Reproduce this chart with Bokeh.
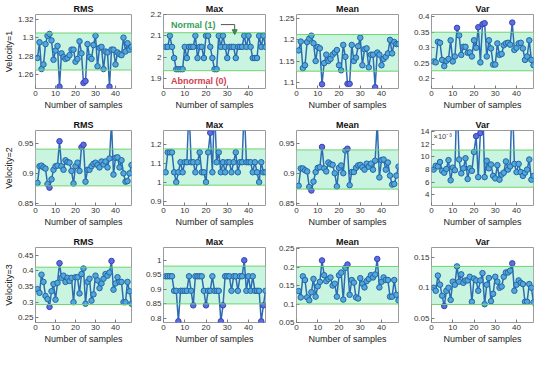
from bokeh.plotting import figure
from bokeh.layouts import column, row
from bokeh.models import (ColumnDataSource, BoxAnnotation, Span, Label, FixedTicker,
                          Range1d, Arrow, NormalHead, CustomJSTickFormatter)
from bokeh.embed import file_html
from bokeh.resources import INLINE

# ---------------- data ----------------
samples = list(range(1, 49))
x_ticks = [0, 10, 20, 30, 40]
titles = ["RMS", "Max", "Mean", "Var"]
row_labels = ["Velocity=1", "Velocity=2", "Velocity=3"]

rms_v1 = [1.278, 1.295, 1.266, 1.271, 1.293, 1.302, 1.304, 1.297, 1.276, 1.286, 1.291, 1.247,
          1.283, 1.279, 1.277, 1.278, 1.281, 1.287, 1.287, 1.274, 1.277, 1.296, 1.283, 1.251,
          1.253, 1.293, 1.279, 1.277, 1.292, 1.302, 1.269, 1.289, 1.290, 1.266, 1.285, 1.284,
          1.247, 1.287, 1.287, 1.271, 1.284, 1.282, 1.281, 1.300, 1.285, 1.294, 1.287, 1.290]
max_v1 = [2.049, 2.049, 2.101, 2.049, 1.997, 1.945, 1.945, 1.945, 1.945, 2.049, 1.997, 2.049,
          2.049, 2.049, 2.101, 1.997, 2.049, 2.049, 1.997, 2.101, 2.101, 2.049, 1.997, 1.945,
          1.945, 2.101, 2.049, 2.101, 2.049, 1.997, 2.049, 2.049, 2.049, 1.997, 2.049, 2.049,
          2.049, 2.101, 2.049, 2.101, 2.049, 1.997, 1.997, 1.997, 2.101, 2.049, 2.101, 2.049]
mean_v1 = [1.175, 1.196, 1.133, 1.140, 1.195, 1.203, 1.210, 1.192, 1.150, 1.183, 1.180, 1.095,
           1.145, 1.165, 1.150, 1.155, 1.165, 1.170, 1.176, 1.140, 1.128, 1.188, 1.160, 1.096,
           1.096, 1.188, 1.150, 1.158, 1.185, 1.205, 1.140, 1.178, 1.180, 1.135, 1.165, 1.165,
           1.088, 1.170, 1.165, 1.140, 1.155, 1.160, 1.168, 1.200, 1.168, 1.195, 1.190, 1.190]
var_v1 = [0.256, 0.253, 0.319, 0.316, 0.261, 0.241, 0.258, 0.264, 0.324, 0.256, 0.272, 0.364,
          0.340, 0.277, 0.303, 0.303, 0.284, 0.285, 0.272, 0.324, 0.300, 0.366, 0.253, 0.376,
          0.379, 0.272, 0.324, 0.298, 0.246, 0.246, 0.314, 0.277, 0.280, 0.308, 0.314, 0.316,
          0.310, 0.381, 0.293, 0.300, 0.314, 0.316, 0.298, 0.261, 0.272, 0.324, 0.261, 0.244]

rms_v2 = [0.884, 0.912, 0.913, 0.910, 0.908, 0.882, 0.876, 0.890, 0.906, 0.912, 0.913, 0.954,
          0.912, 0.906, 0.922, 0.919, 0.918, 0.904, 0.883, 0.912, 0.918, 0.904, 0.944, 0.948,
          0.886, 0.906, 0.906, 0.912, 0.916, 0.918, 0.914, 0.910, 0.920, 0.915, 0.920, 0.910,
          0.925, 0.985, 0.898, 0.926, 0.927, 0.910, 0.922, 0.900, 0.886, 0.887, 0.900, 0.914]
max_v2 = [1.052, 1.157, 1.157, 1.157, 1.052, 1.000, 1.052, 1.105, 1.052, 1.105, 1.105, 1.400,
          1.105, 1.105, 1.052, 1.105, 1.157, 1.052, 1.052, 1.000, 1.157, 1.260, 1.052, 1.400,
          1.105, 1.157, 1.052, 1.105, 1.052, 1.105, 1.105, 1.052, 1.105, 1.157, 1.052, 1.105,
          1.105, 1.400, 1.105, 1.105, 1.105, 1.052, 1.105, 1.052, 1.000, 1.105, 1.052, 1.052]
mean_v2 = [0.879, 0.908, 0.908, 0.905, 0.903, 0.877, 0.871, 0.886, 0.902, 0.909, 0.910, 0.944,
           0.908, 0.903, 0.918, 0.915, 0.914, 0.900, 0.878, 0.909, 0.913, 0.900, 0.938, 0.941,
           0.880, 0.902, 0.902, 0.909, 0.913, 0.914, 0.910, 0.906, 0.916, 0.911, 0.916, 0.906,
           0.921, 0.985, 0.893, 0.922, 0.923, 0.906, 0.918, 0.896, 0.881, 0.882, 0.896, 0.911]
var_v2_e3 = [8.0, 8.6, 8.5, 9.2, 7.8, 7.5, 8.1, 9.5, 6.3, 8.3, 7.9, 20.0,
             9.6, 7.4, 8.2, 9.8, 6.5, 8.2, 7.8, 10.8, 13.3, 6.8, 13.8, 20.0,
             6.8, 9.4, 8.2, 8.8, 7.0, 6.6, 8.7, 6.4, 7.2, 7.5, 9.3, 8.0,
             8.5, 20.0, 8.9, 7.6, 8.9, 7.6, 7.0, 7.5, 8.0, 9.6, 6.4, 7.0]

rms_v3 = [0.342, 0.330, 0.388, 0.365, 0.320, 0.310, 0.285, 0.335, 0.358, 0.308, 0.362, 0.425,
          0.378, 0.385, 0.365, 0.378, 0.368, 0.378, 0.300, 0.380, 0.380, 0.328, 0.390, 0.408,
          0.295, 0.365, 0.375, 0.305, 0.325, 0.385, 0.370, 0.345, 0.360, 0.375, 0.390, 0.385,
          0.395, 0.432, 0.340, 0.360, 0.380, 0.365, 0.365, 0.300, 0.300, 0.365, 0.335, 0.295]
max_v3 = [0.945, 0.945, 0.945, 0.945, 0.895, 0.895, 0.790, 0.895, 0.895, 0.895, 0.895, 0.945,
          0.895, 0.845, 0.945, 0.945, 0.945, 0.945, 0.895, 0.845, 0.895, 0.895, 0.945, 0.895,
          0.895, 0.895, 0.790, 0.845, 0.945, 0.945, 0.945, 0.895, 0.945, 0.945, 0.895, 0.945,
          0.945, 1.000, 0.895, 0.945, 0.895, 0.945, 0.895, 0.895, 0.895, 0.790, 0.845, 0.895]
mean_v3 = [0.135, 0.118, 0.175, 0.165, 0.118, 0.110, 0.132, 0.168, 0.120, 0.148, 0.160, 0.218,
           0.178, 0.162, 0.168, 0.172, 0.150, 0.155, 0.120, 0.178, 0.185, 0.112, 0.198, 0.207,
           0.125, 0.165, 0.158, 0.118, 0.115, 0.170, 0.155, 0.145, 0.162, 0.168, 0.178, 0.172,
           0.180, 0.222, 0.145, 0.160, 0.172, 0.165, 0.165, 0.120, 0.120, 0.165, 0.125, 0.110]
var_v3 = [0.100, 0.095, 0.120, 0.105, 0.087, 0.070, 0.095, 0.100, 0.080, 0.110, 0.105, 0.135,
          0.110, 0.122, 0.108, 0.112, 0.112, 0.118, 0.077, 0.115, 0.112, 0.095, 0.112, 0.124,
          0.073, 0.105, 0.116, 0.078, 0.090, 0.118, 0.110, 0.100, 0.102, 0.118, 0.125, 0.125,
          0.128, 0.140, 0.095, 0.105, 0.112, 0.108, 0.106, 0.077, 0.077, 0.106, 0.100, 0.076]

series = [[rms_v1, max_v1, mean_v1, var_v1],
          [rms_v2, max_v2, mean_v2, var_v2_e3],
          [rms_v3, max_v3, mean_v3, var_v3]]

y_limits = [[(1.245, 1.325), (1.855, 2.2), (1.085, 1.26), (0.169, 0.407)],
            [(0.846, 0.972), (0.877, 1.272), (0.846, 0.9715), (2.3, 14.2)],
            [(0.235, 0.475), (0.786, 1.044), (0.05, 0.253), (0.043, 0.166)]]
y_ticks = [[[1.26, 1.28, 1.3, 1.32], [1.9, 2, 2.1, 2.2], [1.1, 1.15, 1.2, 1.25], [0.2, 0.25, 0.3, 0.35, 0.4]],
           [[0.85, 0.9, 0.95], [0.9, 1, 1.1, 1.2], [0.85, 0.9, 0.95], [4, 6, 8, 10, 12, 14]],
           [[0.25, 0.3, 0.35, 0.4, 0.45], [0.8, 0.85, 0.9, 0.95, 1], [0.05, 0.1, 0.15, 0.2, 0.25], [0.05, 0.1, 0.15]]]
normal_band = [[(1.265, 1.305), (1.938, 2.115), (1.126, 1.2125), (0.226, 0.35)],
               [(0.879, 0.9407), (0.984, 1.175), (0.8735, 0.939), (5.2, 11.1)],
               [(0.2925, 0.412), (0.85, 0.98), (0.1, 0.2017), (0.0726, 0.135)]]

# ---------------- layout ----------------
FONT = "Liberation Sans"
col_w = [134, 133, 133, 134]
col_left = [29, 29, 29, 31]
col_right = [3, 2, 2, 1]
row_h = [116, 117, 117]
TOP, BOTTOM = 14, 28

fmt = CustomJSTickFormatter(code="return String(Number(tick.toFixed(4)));")

rows = []
for r in range(3):
    figs = []
    for c in range(4):
        lo, hi = y_limits[r][c]
        blo, bhi = normal_band[r][c]
        p = figure(width=col_w[c], height=row_h[r], x_range=Range1d(0, 48), y_range=Range1d(lo, hi),
                   output_backend="svg", toolbar_location=None, title=titles[c],
                   min_border_left=col_left[c], min_border_right=col_right[c],
                   min_border_top=TOP, min_border_bottom=BOTTOM)
        p.title.align = "center"
        p.title.text_font = FONT
        p.title.text_font_size = "9px"
        p.title.text_font_style = "bold"
        p.title.text_color = "#111111"
        p.title.standoff = 1
        p.xgrid.visible = False
        p.ygrid.visible = False
        p.outline_line_color = "#9a9a9a"
        p.outline_line_width = 1
        p.background_fill_color = "white"
        p.border_fill_color = "white"

        p.add_layout(BoxAnnotation(bottom=blo, top=bhi, fill_color="#c9f5e0", fill_alpha=1.0,
                                   line_color=None, level="underlay"))
        for yb in (blo, bhi):
            p.add_layout(Span(location=yb, dimension="width", line_color="#6ed46e", line_width=1))

        vals = series[r][c]
        fills = ["#5a6ee0" if (v < blo or v > bhi) else "#4fa9d9" for v in vals]
        edges = ["#3b3fb5" if (v < blo or v > bhi) else "#2763a8" for v in vals]
        src = ColumnDataSource(dict(x=samples, y=vals, f=fills, e=edges))
        p.line("x", "y", source=src, line_color="#2c6cb3", line_width=1.5)
        p.scatter("x", "y", source=src, size=5.5, fill_color="f", line_color="e", line_width=1)

        p.xaxis.ticker = FixedTicker(ticks=x_ticks)
        p.yaxis.ticker = FixedTicker(ticks=y_ticks[r][c])
        p.yaxis.formatter = fmt
        for ax in (p.xaxis[0], p.yaxis[0]):
            ax.axis_line_color = None
            ax.major_tick_in = 3
            ax.major_tick_out = 0
            ax.minor_tick_line_color = None
            ax.major_tick_line_color = "#7a7a7a"
            ax.major_label_text_font = FONT
            ax.major_label_text_font_size = "8px"
            ax.major_label_text_color = "#333333"
            ax.major_label_standoff = 2
            ax.axis_label_text_font = FONT
            ax.axis_label_text_font_size = "9px"
            ax.axis_label_text_font_style = "normal"
            ax.axis_label_text_color = "#222222"
            ax.axis_label_standoff = 1
        p.xaxis.axis_label = "Number of samples"
        if c == 0:
            p.yaxis.axis_label = row_labels[r]

        if r == 0 and c == 1:
            p.add_layout(Label(x=3.5, y=2.153, text="Normal (1)", text_font=FONT, text_font_size="9px",
                               text_font_style="bold", text_color="#35a05a", text_baseline="middle"))
            p.add_layout(Label(x=3.5, y=1.892, text="Abnormal (0)", text_font=FONT, text_font_size="9px",
                               text_font_style="bold", text_color="#d0404f", text_baseline="middle"))
            p.add_layout(Arrow(end=None, x_start=27, y_start=2.153, x_end=33.5, y_end=2.153,
                               line_color="#555555", line_width=1))
            p.add_layout(Arrow(end=NormalHead(size=5, fill_color="#3a8a4a", line_color="#3a8a4a"),
                               x_start=33.5, y_start=2.153, x_end=33.5, y_end=2.106,
                               line_color="#555555", line_width=1))
        if r == 1 and c == 3:
            p.add_layout(Label(x=0, y=hi, text="×10⁻³", text_font=FONT, text_font_size="7.5px",
                               text_color="#444444", text_baseline="top", x_offset=2, y_offset=-1))
        figs.append(p)
    rows.append(row(*figs))

layout = column(*rows)
open("out.html", "w").write(file_html(layout, INLINE))
